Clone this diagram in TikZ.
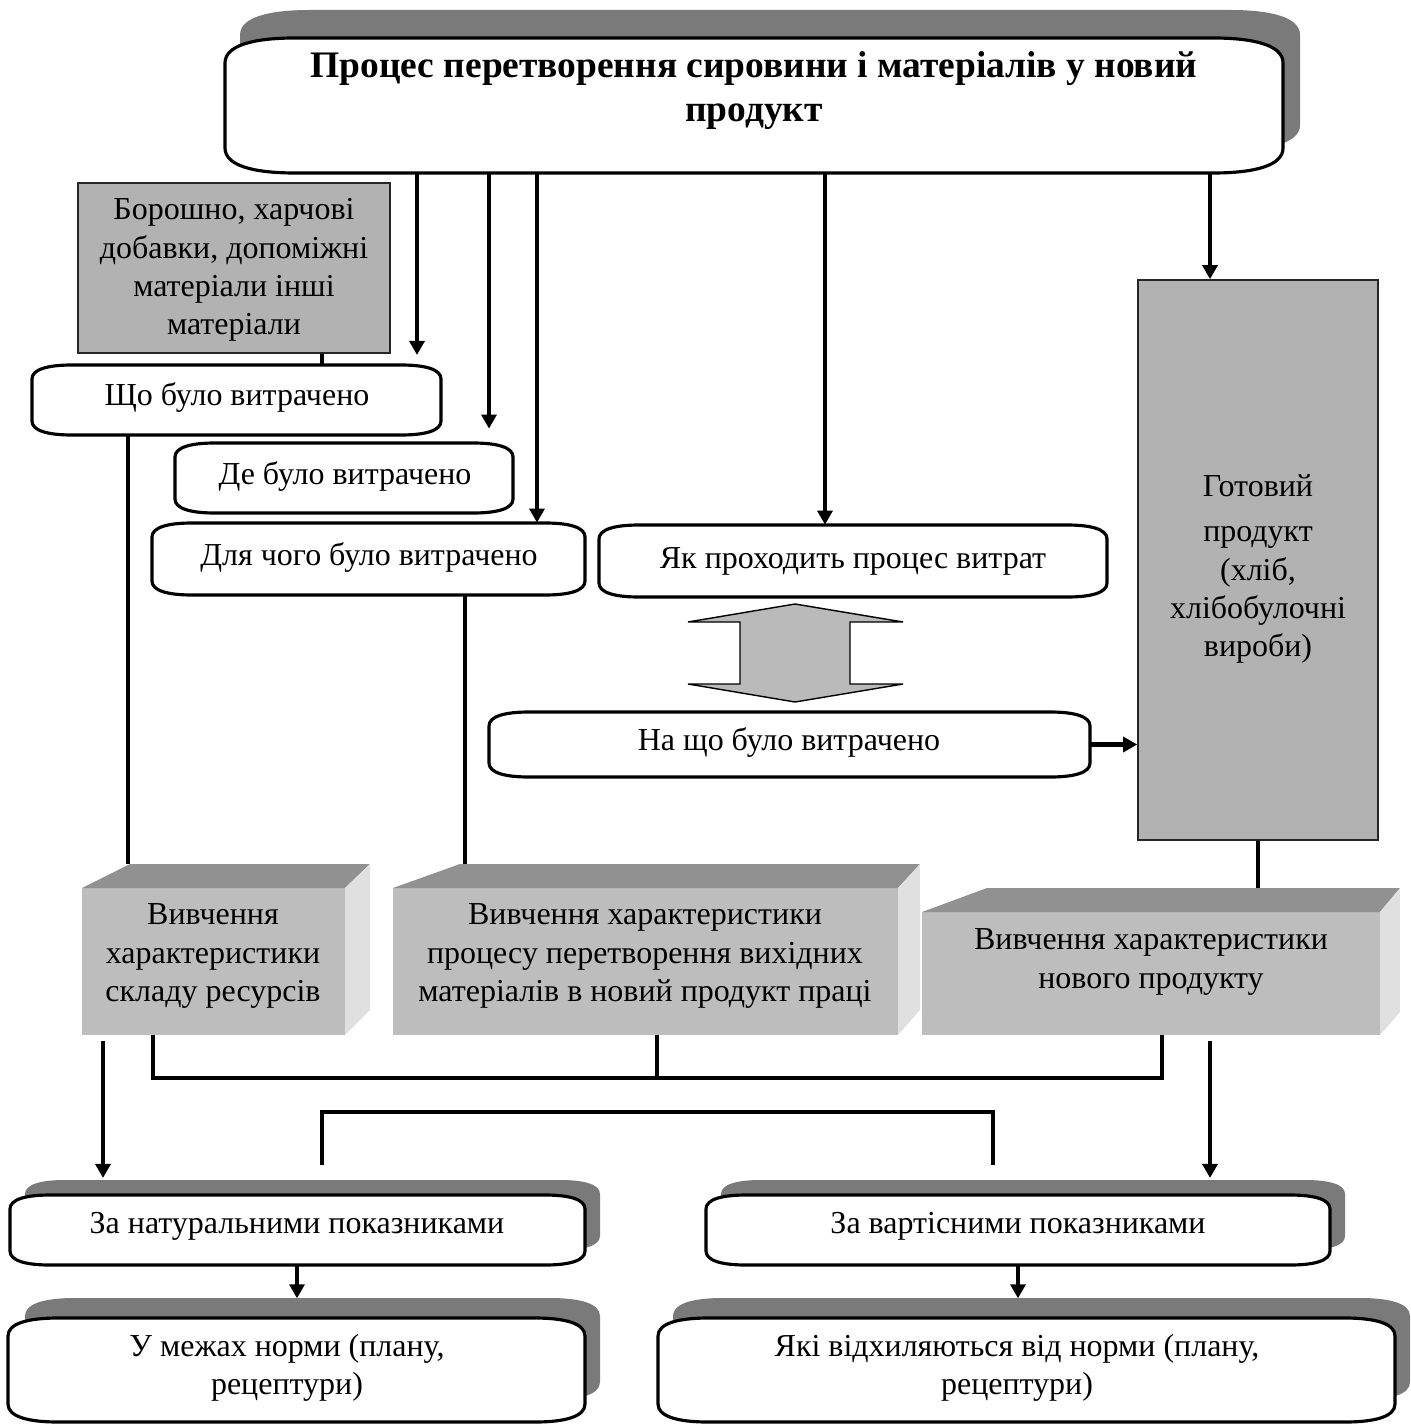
\documentclass[tikz,border=0pt]{standalone}
\usepackage{fontspec}
\setmainfont{Liberation Serif}
\usetikzlibrary{arrows.meta,fit}

\newcommand\pillow[7]{%
  \path[#1] (#2,#3+#6) .. controls (#2,#3+0.3*#6) and (#2+0.4*#7,#3) .. (#2+#7,#3)
   -- (#4-#7,#3) .. controls (#4-0.4*#7,#3) and (#4,#3+0.3*#6) .. (#4,#3+#6)
   -- (#4,#5-#6) .. controls (#4,#5-0.3*#6) and (#4-0.4*#7,#5) .. (#4-#7,#5)
   -- (#2+#7,#5) .. controls (#2+0.4*#7,#5) and (#2,#5-0.3*#6) .. (#2,#5-#6) -- cycle;}

\begin{document}
\begin{tikzpicture}[x=0.02cm,y=-0.02cm,
  txt/.style={inner sep=0pt, font=\fontsize{18.2}{21.8}\selectfont, align=center},
  region/.style={inner sep=0pt},
  conn/.style={line width=2.6pt},
  arr/.style={conn,-{Triangle[length=8pt,width=8.5pt]}},
  flat/.style={draw=black!85, line width=0.9pt, fill=black!30},
  outl/.style={draw=black, line width=1.8pt, fill=white},
  shad/.style={fill=black!52},
  frontface/.style={fill=black!26},
  topface/.style={fill=black!43},
  sideface/.style={fill=black!12},
  dbl/.style={draw=black, line width=0.8pt, fill=black!27},
]
\useasboundingbox[fill=white] (0,0) rectangle (1410,1425);

% helper coordinates (x positions and y levels)
\foreach \x in {103,128,153,297,322,417,465,489,537,657,825,993,1018,1162,1210,1258}
  {\coordinate (c\x) at (\x,0);}
\coordinate (br1) at (0,1078);
\coordinate (br2) at (0,1112);
\coordinate (br2e) at (0,1165);

% ---------- top box ----------
\pillow{shad}{240}{10}{1300}{150}{25}{70}
\pillow{outl}{225}{38}{1283}{173}{25}{70}
\node[region, fit={(225,38)(1283,173)}] (top) {};
\node[txt, font=\fontsize{21.3}{25}\selectfont\bfseries] (toptxt) at (754,91)
  {Процес перетворення сировини і матеріалів у новий\\продукт};

% ---------- gray rectangles ----------
\node[region, flat, fit={(78,183)(390,353)}] (mat) {};
\node[txt] (matt) at (234,270) {Борошно, харчові\\добавки, допоміжні\\матеріали інші\\матеріали};
\node[region, flat, fit={(1138,280)(1378,840)}] (prod) {};
\node[txt] (prodt) at (1258,569) {Готовий\\[4pt]продукт\\(хліб,\\хлібобулочні\\вироби)};

% ---------- question boxes ----------
\pillow{outl}{32}{365}{441}{435}{14}{40}
\node[region, fit={(32,365)(441,435)}] (shto) {};
\node[txt] (shtot) at (237,398) {Що було витрачено};
\pillow{outl}{175}{443}{513}{513}{14}{40}
\node[region, fit={(175,443)(513,513)}] (de) {};
\node[txt] (det) at (345,477) {Де було витрачено};
\pillow{outl}{152}{523}{585}{595}{14}{40}
\node[region, fit={(152,523)(585,595)}] (dlya) {};
\node[txt] (dlyat) at (369,558) {Для чого було витрачено};
\pillow{outl}{599}{525}{1107}{597}{14}{40}
\node[region, fit={(599,525)(1107,597)}] (yak) {};
\node[txt] (yakt) at (853,561) {Як проходить процес витрат};
\pillow{outl}{489}{712}{1090}{777}{14}{40}
\node[region, fit={(489,712)(1090,777)}] (nashcho) {};
\node[txt] (nashchot) at (789,742) {На що було витрачено};

% ---------- double arrow ----------
\path[dbl] (795,604) -- (903,622) -- (850,622) -- (850,684) -- (903,684) -- (795,702)
  -- (688,684) -- (740,684) -- (740,622) -- (688,622) -- cycle;

% ---------- 3D boxes ----------
\path[frontface] (82,888) rectangle (345,1035);
\path[topface] (82,888) -- (130,864) -- (370,864) -- (345,888) -- cycle;
\path[sideface] (345,888) -- (370,864) -- (370,1010) -- (345,1035) -- cycle;
\node[region, fit={(82,864)(370,1035)}] (b1) {};
\node[txt] (b1t) at (213,956) {Вивчення\\характеристики\\складу ресурсів};

\path[frontface] (393,888) rectangle (898,1035);
\path[topface] (393,888) -- (460,864) -- (920,864) -- (898,888) -- cycle;
\path[sideface] (898,888) -- (920,864) -- (920,1010) -- (898,1035) -- cycle;
\node[region, fit={(393,864)(920,1035)}] (b2) {};
\node[txt] (b2t) at (645,956) {Вивчення характеристики\\процесу перетворення вихідних\\матеріалів в новий продукт праці};

\path[frontface] (922,912) rectangle (1380,1035);
\path[topface] (922,912) -- (987,888) -- (1400,888) -- (1380,912) -- cycle;
\path[sideface] (1380,912) -- (1400,888) -- (1400,1012) -- (1380,1035) -- cycle;
\node[region, fit={(922,888)(1400,1035)}] (b3) {};
\node[txt] (b3t) at (1151,962) {Вивчення характеристики\\нового продукту};

% ---------- bottom boxes ----------
\pillow{shad}{25}{1180}{600}{1250}{14}{40}
\pillow{outl}{10}{1195}{585}{1265}{14}{40}
\node[region, fit={(10,1195)(585,1265)}] (nat) {};
\node[txt] (natt) at (297,1226) {За натуральними показниками};
\pillow{shad}{721}{1180}{1345}{1250}{14}{40}
\pillow{outl}{706}{1195}{1330}{1265}{14}{40}
\node[region, fit={(706,1195)(1330,1265)}] (var) {};
\node[txt] (vart) at (1018,1226) {За вартісними показниками};
\pillow{shad}{25}{1298}{600}{1400}{18}{50}
\pillow{outl}{8}{1318}{585}{1422}{18}{50}
\node[region, fit={(8,1318)(585,1422)}] (mezh) {};
\node[txt] (mezht) at (287,1368) {У межах норми (плану,\\рецептури)};
\pillow{shad}{673}{1298}{1410}{1400}{18}{50}
\pillow{outl}{658}{1318}{1395}{1422}{18}{50}
\node[region, fit={(658,1318)(1395,1422)}] (yaki) {};
\node[txt] (yakit) at (1017,1368) {Які відхиляються від норми (плану,\\рецептури)};

% ---------- connectors ----------
\draw[arr, shorten >=5.5pt] (top.south -| c417) -- (shto.north -| c417);
\draw[arr, shorten >=8pt] (top.south -| c489) -- (de.north -| c489);
\draw[arr] (top.south -| c537) -- (dlya.north -| c537);
\draw[arr] (top.south -| c825) -- (yak.north -| c825);
\draw[arr] (top.south -| c1210) -- (prod.north -| c1210);
\draw[conn] (mat.south -| c322) -- (shto.north -| c322);
\draw[conn] (shto.south -| c128) -- (b1.north -| c128);
\draw[conn] (dlya.south -| c465) -- (b2.north -| c465);
\draw[arr] (nashcho.east) -- (prod.west |- nashcho.east);
\draw[conn] (prod.south -| c1258) -- (b3.north -| c1258);
\draw[arr, shorten <=3pt, shorten >=9.5pt] (b1.south -| c103) -- (nat.north -| c103);
\draw[arr, shorten <=3pt, shorten >=9.5pt] (b3.south -| c1210) -- (var.north -| c1210);
\draw[conn] (b1.south -| c153) -- (c153 |- br1) -- (c1162 |- br1) -- (b3.south -| c1162);
\draw[conn] (b2.south -| c657) -- (c657 |- br1);
\draw[conn] (c322 |- br2e) -- (c322 |- br2) -- (c993 |- br2) -- (c993 |- br2e);
\draw[arr, shorten >=11pt] (nat.south -| c297) -- (mezh.north -| c297);
\draw[arr, shorten >=11pt] (var.south -| c1018) -- (yaki.north -| c1018);
\end{tikzpicture}
\end{document}
